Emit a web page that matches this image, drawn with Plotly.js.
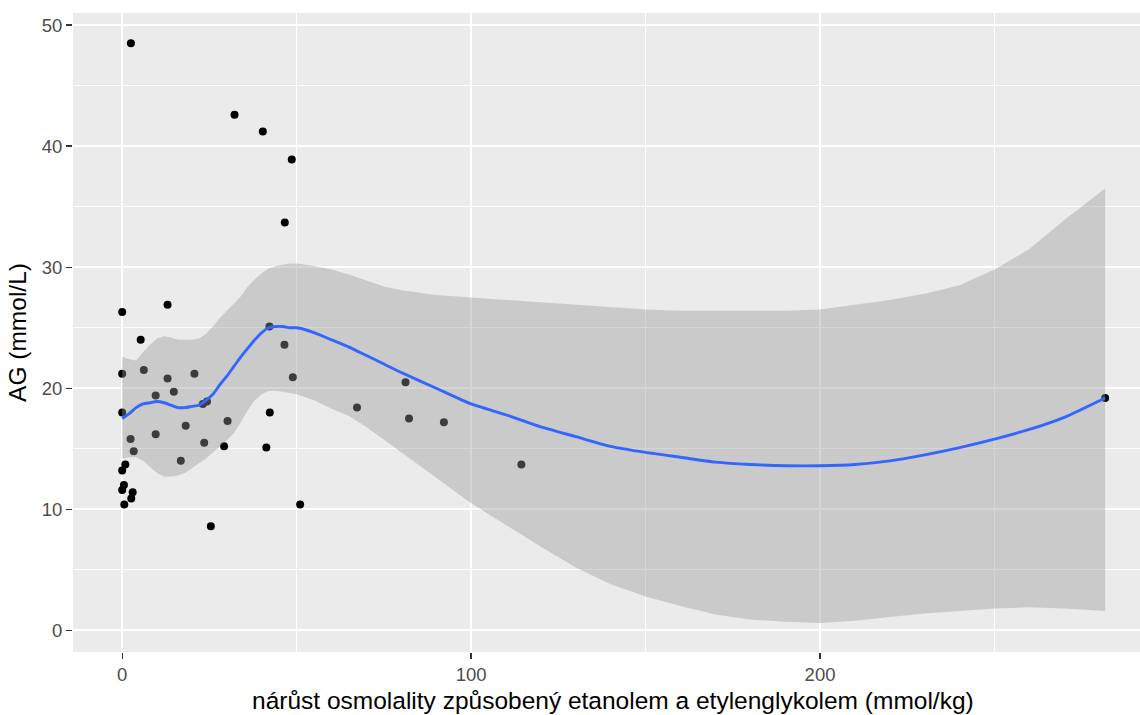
<!DOCTYPE html>
<html>
<head>
<meta charset="utf-8">
<script src="https://cdn.plot.ly/plotly-3.0.1.min.js"></script>
<style>
  html, body { margin: 0; padding: 0; background: #ffffff; }
  #chart { width: 1140px; height: 715px; }
</style>
</head>
<body>
<div id="chart"></div>
<script>
// Observed cases: osmolality increase (x) vs anion gap (y)
const osmX = [2.5, 32.2, 40.3, 48.6, 46.6, 0.0, 13.0, 5.3, 42.2, 0.0,
              6.2, 13.0, 20.7, 46.5, 48.9, 9.6, 14.8, 0.0, 23.1, 24.3,
              42.3, 67.3, 81.2, 82.2, 92.2, 114.4, 281.7, 2.4, 9.6, 18.2,
              30.2, 3.3, 23.5, 29.2, 16.8, 0.9, 0.0, 0.5, 0.0, 3.0,
              2.6, 0.6, 25.4, 41.3, 51.0];
const agY  = [48.5, 42.6, 41.2, 38.9, 33.7, 26.3, 26.9, 24.0, 25.1, 21.2,
              21.5, 20.8, 21.2, 23.6, 20.9, 19.4, 19.7, 18.0, 18.7, 18.9,
              18.0, 18.4, 20.5, 17.5, 17.2, 13.7, 19.2, 15.8, 16.2, 16.9,
              17.3, 14.8, 15.5, 15.2, 14.0, 13.7, 13.2, 12.0, 11.6, 11.4,
              10.9, 10.4, 8.6, 15.1, 10.4];

// LOESS smooth with its 95% confidence band
const fitX     = [0, 2, 4, 6, 8, 10, 12, 14, 16, 18, 20, 22, 24, 26, 28, 30, 32, 34, 36, 38,
                  40, 42, 44, 46, 48, 50, 55, 60, 65, 70, 75, 80, 90, 100, 110, 120, 130, 140,
                  150, 160, 170, 180, 190, 200, 210, 220, 230, 240, 250, 260, 270, 281.7];
const fitY     = [17.5, 17.9, 18.4, 18.7, 18.8, 18.9, 18.8, 18.6, 18.4, 18.4, 18.5, 18.6, 19.0, 19.5,
                  20.3, 21.0, 21.8, 22.6, 23.3, 24.0, 24.6, 25.0, 25.1, 25.1, 25.0, 25.0, 24.6, 24.0,
                  23.4, 22.7, 22.0, 21.3, 20.0, 18.7, 17.8, 16.8, 16.0, 15.2, 14.7, 14.3, 13.9, 13.7,
                  13.6, 13.6, 13.7, 14.0, 14.5, 15.1, 15.8, 16.6, 17.6, 19.2];
const fitUpper = [22.6, 22.4, 22.3, 23.0, 23.6, 24.1, 24.3, 24.2, 24.0, 24.0, 24.0, 24.1, 24.5, 25.1,
                  25.8, 26.4, 27.0, 27.6, 28.4, 29.0, 29.5, 29.9, 30.1, 30.2, 30.3, 30.3, 30.1, 29.8,
                  29.4, 28.9, 28.4, 28.1, 27.7, 27.5, 27.3, 27.1, 26.9, 26.7, 26.5, 26.4, 26.4, 26.4,
                  26.4, 26.5, 26.9, 27.3, 27.8, 28.5, 29.8, 31.5, 33.9, 36.5];
const fitLower = [14.2, 14.3, 14.3, 14.0, 13.5, 13.0, 12.7, 12.7, 12.8, 13.0, 13.4, 13.8, 14.2, 14.7,
                  15.2, 15.7, 16.3, 17.2, 18.2, 19.0, 19.5, 19.8, 19.8, 19.7, 19.6, 19.5, 19.0, 18.3,
                  17.7, 16.8, 15.8, 14.7, 12.6, 10.5, 8.7, 6.9, 5.2, 3.8, 2.8, 2.0, 1.3, 0.9,
                  0.7, 0.6, 0.8, 1.1, 1.4, 1.6, 1.8, 1.9, 1.8, 1.6];

// Axis ticks
const xTicks = [0, 100, 200];
const yTicks = [0, 10, 20, 30, 40, 50];

const bandX = fitX.concat(fitX.slice().reverse());
const bandY = fitUpper.concat(fitLower.slice().reverse());

const traces = [
  {
    type: 'scatter', mode: 'markers',
    x: osmX, y: agY,
    marker: { color: '#000000', size: 8, line: { width: 0 } },
    hoverinfo: 'skip', showlegend: false
  },
  {
    type: 'scatter', mode: 'lines',
    x: bandX, y: bandY,
    fill: 'toself', fillcolor: 'rgba(153,153,153,0.4)',
    line: { width: 0, color: 'rgba(0,0,0,0)' },
    hoverinfo: 'skip', showlegend: false
  },
  {
    type: 'scatter', mode: 'lines',
    x: fitX, y: fitY,
    line: { color: '#3366FF', width: 2.9, shape: 'spline', smoothing: 0.6 },
    hoverinfo: 'skip', showlegend: false
  }
];

const tickFont = { family: 'Liberation Sans, Arial, sans-serif', size: 18.5, color: '#4D4D4D' };
const titleFont = { family: 'Liberation Sans, Arial, sans-serif', size: 24.5, color: '#000000' };

const layout = {
  width: 1140, height: 715,
  margin: { l: 73.3, r: 0, t: 13, b: 63.3, pad: 0 },
  paper_bgcolor: '#FFFFFF',
  plot_bgcolor: '#EBEBEB',
  showlegend: false,
  xaxis: {
    range: [-14.1, 291.7],
    tickvals: xTicks, ticktext: xTicks.map(String),
    ticks: 'outside', ticklen: 6, tickwidth: 1.4, tickcolor: '#333333',
    tickfont: tickFont,
    showgrid: true, gridcolor: '#FFFFFF', gridwidth: 2,
    minor: { tickvals: [50, 150, 250], showgrid: true, gridcolor: '#FFFFFF', gridwidth: 1, ticks: '' },
    zeroline: false, showline: false,
    automargin: false, fixedrange: true
  },
  yaxis: {
    range: [-1.79, 51.0],
    tickvals: yTicks, ticktext: yTicks.map(String),
    ticks: 'outside', ticklen: 6, tickwidth: 1.4, tickcolor: '#333333',
    tickfont: tickFont,
    showgrid: true, gridcolor: '#FFFFFF', gridwidth: 2,
    minor: { tickvals: [5, 15, 25, 35, 45], showgrid: true, gridcolor: '#FFFFFF', gridwidth: 1, ticks: '' },
    zeroline: false, showline: false,
    title: { text: 'AG (mmol/L)', font: titleFont, standoff: 8 },
    automargin: false, fixedrange: true
  },
  // x-axis title, centred on the full panel width (the panel runs slightly past the right edge)
  annotations: [{
    text: 'nárůst osmolality způsobený etanolem a etylenglykolem (mmol/kg)',
    xref: 'paper', yref: 'paper',
    x: 0.5065, y: -0.0756, xanchor: 'center', yanchor: 'middle',
    showarrow: false, font: titleFont
  }]
};

Plotly.newPlot('chart', traces, layout, { displayModeBar: false, staticPlot: true });
</script>
</body>
</html>
